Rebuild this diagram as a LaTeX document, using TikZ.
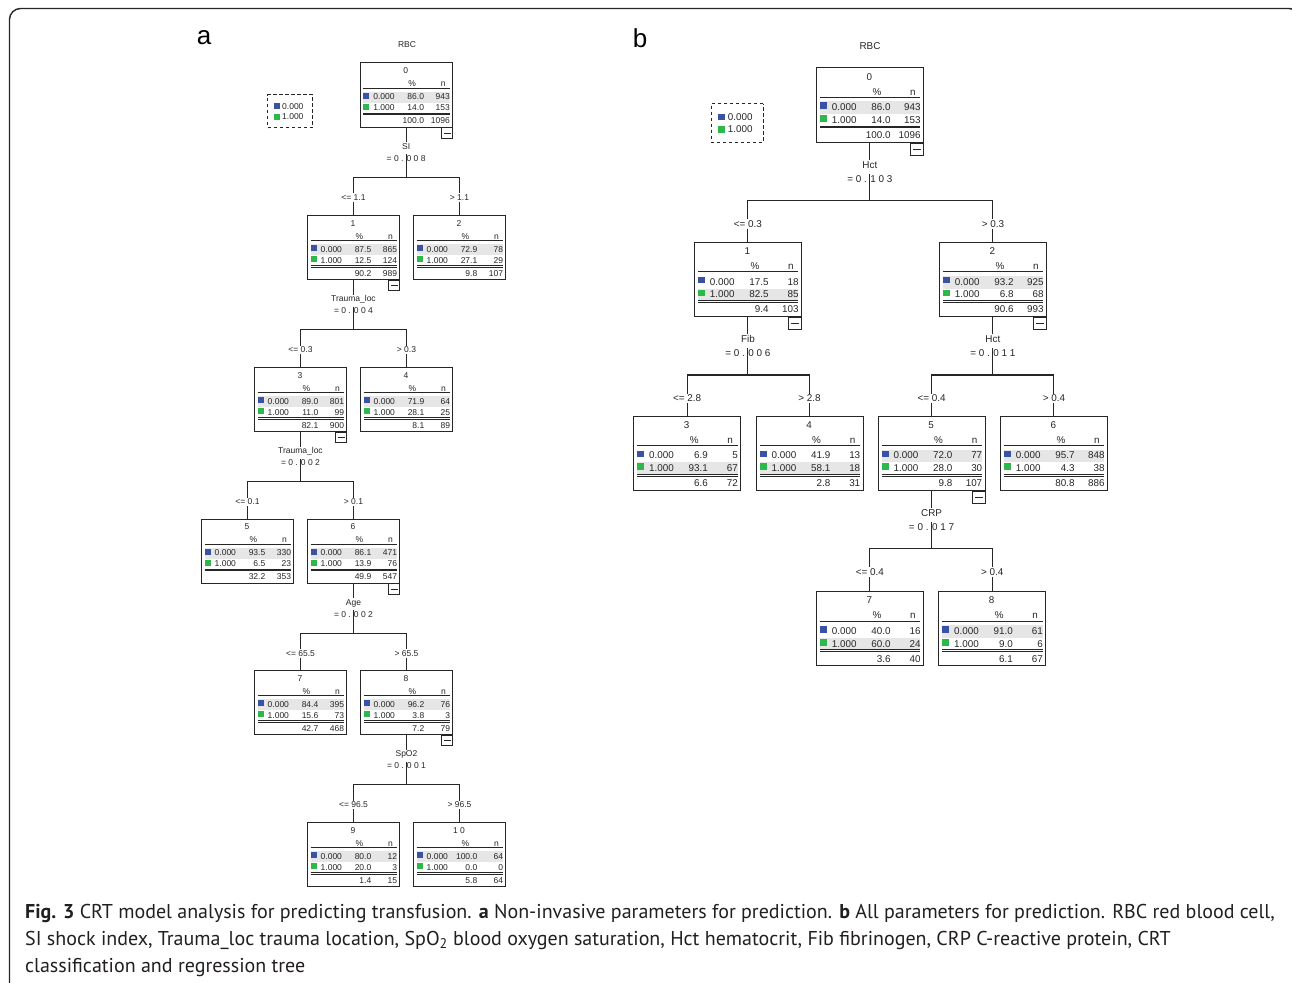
\documentclass[tikz,border=0pt]{standalone}
\usepackage{fontspec}
\setmainfont{Liberation Sans}
\newfontfamily\capfont{PT Sans}
\usetikzlibrary{calc}
\definecolor{sqblue}{HTML}{3A52A5}
\definecolor{sqgreen}{HTML}{2DB84B}
\definecolor{band}{HTML}{E6E6E6}
\definecolor{ink}{HTML}{262626}
\definecolor{capink}{HTML}{231F20}

\def\trs{1}
\def\trf{\fontsize{8.5}{10}\selectfont}

\tikzset{
  boxline/.style={draw=ink, line width=0.9pt},
  conn/.style={draw=ink, line width=1.1pt},
  cell/.style={inner sep=0pt, text=ink, font=\fontsize{8.5}{10}\selectfont},
  lbl/.style={inner sep=1pt, text=ink, anchor=base, font=\trf},
  panel/.style={inner sep=0pt, text=black, font=\fontsize{26}{30}\selectfont},
  capline/.style={inner sep=0pt, anchor=base west, text=capink, font=\capfont\fontsize{20}{27}\selectfont},
}

% #1 name, #2 position, #3 id, #4 p0, #5 n0, #6 p1, #7 n1, #8 ptot, #9 ntot
\newcommand{\crtbox}[9]{%
  \begin{scope}[shift={(#2)}, scale=\trs, transform shape]
    \ifnum#7>#5\relax
      \fill[band] (3.5,40.4) rectangle (90,50);
    \else
      \fill[band] (3.5,29.4) rectangle (90,40.4);
    \fi
    \node[boxline, minimum width=92pt, minimum height=64pt, inner sep=0pt, anchor=north west] (#1) at (0,0) {};
    \node[cell, anchor=base] (#1-id) at (46,11) {#3};
    \node[cell, anchor=base] (#1-pc) at (52.5,24) {\%};
    \node[cell, anchor=base] (#1-n) at (83.5,24) {n};
    \draw[ink, line width=0.8pt] (3.5,25.8) -- (90,25.8);
    \fill[sqblue] (3.5,30.2) rectangle (9.5,36);
    \fill[sqgreen] (3.5,41.3) rectangle (9.5,47.1);
    \node[cell, anchor=base west] (#1-c0) at (13.5,37.4) {0.000};
    \node[cell, anchor=base east] (#1-p0) at (64.5,37.4) {#4};
    \node[cell, anchor=base east] (#1-n0) at (90.3,37.4) {#5};
    \node[cell, anchor=base west] (#1-c1) at (13.5,48.4) {1.000};
    \node[cell, anchor=base east] (#1-p1) at (64.5,48.4) {#6};
    \node[cell, anchor=base east] (#1-n1) at (90.3,48.4) {#7};
    \draw[ink, line width=0.6pt] (3.5,50.5) -- (90,50.5) (3.5,52) -- (90,52);
    \node[cell, anchor=base east] (#1-pt) at (64.5,61.4) {#8};
    \node[cell, anchor=base east] (#1-nt) at (90.3,61.4) {#9};
  \end{scope}}

\newcommand{\crtminus}[1]{%
  \begin{scope}[shift={(#1.south east)}, scale=\trs, transform shape]
    \node[boxline, fill=white, minimum width=11pt, minimum height=10.5pt, inner sep=0pt, anchor=north east] (#1-minus) at (0,0) {};
    \draw[ink, line width=1pt] (-9,5.8) -- (-2,5.8);
  \end{scope}}

\newcommand{\crtlegend}[2]{%
  \begin{scope}[shift={(#2)}, scale=\trs, transform shape]
    \node[draw=ink, line width=0.9pt, dash pattern=on 3.5pt off 2.5pt, minimum width=45pt, minimum height=33pt, inner sep=0pt, anchor=north west] (#1) at (0,0) {};
    \fill[sqblue] (6.7,9) rectangle (12.7,14.7);
    \fill[sqgreen] (6.7,19.7) rectangle (12.7,25.4);
    \node[cell, anchor=base west] (#1-c0) at (14.7,14.7) {0.000};
    \node[cell, anchor=base west] (#1-c1) at (14.7,25.4) {1.000};
  \end{scope}}

% #1 parent, #2 variable, #3 p-value text, #4 left child, #5 right child, #6 left cond, #7 right cond
\newcommand{\crtsplit}[7]{%
  \node[lbl] (#1-var) at ($(#1.south)+(0,{22*\trs})$) {#2};
  \node[lbl] (#1-eq) at ($(#1.south)+(0,{34*\trs})$) {#3};
  \coordinate (#1-bar) at ($(#1.south)+(0,{50*\trs})$);
  \coordinate (#4-top) at (#4.north |- #1-bar);
  \coordinate (#5-top) at (#5.north |- #1-bar);
  \node[lbl] (#4-cond) at ($(#4-top)+(0,{23*\trs})$) {#6};
  \node[lbl] (#5-cond) at ($(#5-top)+(0,{23*\trs})$) {#7};
  \draw[conn] (#1.south) -- (#1-var.north);
  \draw[conn] (#1-eq.north) -- (#1-bar);
  \draw[conn] (#4-cond.north) -- (#4-top) -- (#5-top) -- (#5-cond.north);
  \draw[conn] (#4-cond.south) -- (#4.north);
  \draw[conn] (#5-cond.south) -- (#5.north);}

\begin{document}
\begin{tikzpicture}[x=1pt, y=-1pt]
\useasboundingbox (0,0) rectangle (1292,982);
\clip (0,0) rectangle (1292,982);
\fill[white] (0,0) rectangle (1292,982);

% outer frame
\draw[ink, line width=1.4pt, rounded corners=11pt] (9.5,1000) -- (9.5,8.5) -- (1300,8.5) -- (1300,1000);

% ---------------- tree a ----------------
\def\trs{1}
\def\trf{\fontsize{8.5}{10}\selectfont}
\node[panel] (pa) at (204,38) {a};
\node[lbl, anchor=center] (rbca) at (407,45) {RBC};
\crtlegend{lega}{267.3,94.3}
\crtbox{a0}{359.7,62.5}{0}{86.0}{943}{14.0}{153}{100.0}{1096}
\crtbox{a1}{307,215}{1}{87.5}{865}{12.5}{124}{90.2}{989}
\crtbox{a2}{413,215}{2}{72.9}{78}{27.1}{29}{9.8}{107}
\crtbox{a3}{254,367}{3}{89.0}{801}{11.0}{99}{82.1}{900}
\crtbox{a4}{360,367}{4}{71.9}{64}{28.1}{25}{8.1}{89}
\crtbox{a5}{201,518.5}{5}{93.5}{330}{6.5}{23}{32.2}{353}
\crtbox{a6}{307,518.5}{6}{86.1}{471}{13.9}{76}{49.9}{547}
\crtbox{a7}{254,670}{7}{84.4}{395}{15.6}{73}{42.7}{468}
\crtbox{a8}{360,670}{8}{96.2}{76}{3.8}{3}{7.2}{79}
\crtbox{a9}{307,822}{9}{80.0}{12}{20.0}{3}{1.4}{15}
\crtbox{a10}{413,822}{1 0}{100.0}{64}{0.0}{0}{5.8}{64}
\crtminus{a0}\crtminus{a1}\crtminus{a3}\crtminus{a6}\crtminus{a8}
\crtsplit{a0}{SI}{= 0 . 0 0 8}{a1}{a2}{<= 1.1}{> 1.1}
\crtsplit{a1}{Trauma\_loc}{= 0 . 0 0 4}{a3}{a4}{<= 0.3}{> 0.3}
\crtsplit{a3}{Trauma\_loc}{= 0 . 0 0 2}{a5}{a6}{<= 0.1}{> 0.1}
\crtsplit{a6}{Age}{= 0 . 0 0 2}{a7}{a8}{<= 65.5}{> 65.5}
\crtsplit{a8}{SpO2}{= 0 . 0 0 1}{a9}{a10}{<= 96.5}{> 96.5}

% ---------------- tree b ----------------
\def\trs{1.16}
\def\trf{\fontsize{9.9}{12}\selectfont}
\node[panel] (pb) at (640,38) {b};
\node[lbl, anchor=center] (rbcb) at (870,46) {RBC};
\crtlegend{legb}{710.7,103.3}
\crtbox{b0}{816,67.3}{0}{86.0}{943}{14.0}{153}{100.0}{1096}
\crtbox{b1}{694,241.7}{1}{17.5}{18}{82.5}{85}{9.4}{103}
\crtbox{b2}{939,241.7}{2}{93.2}{925}{6.8}{68}{90.6}{993}
\crtbox{b3}{633.3,415.5}{3}{6.9}{5}{93.1}{67}{6.6}{72}
\crtbox{b4}{755.7,415.5}{4}{41.9}{13}{58.1}{18}{2.8}{31}
\crtbox{b5}{877.7,415.5}{5}{72.0}{77}{28.0}{30}{9.8}{107}
\crtbox{b6}{1000,415.5}{6}{95.7}{848}{4.3}{38}{80.8}{886}
\crtbox{b7}{816,591}{7}{40.0}{16}{60.0}{24}{3.6}{40}
\crtbox{b8}{938.3,591}{8}{91.0}{61}{9.0}{6}{6.1}{67}
\crtminus{b0}\crtminus{b1}\crtminus{b2}\crtminus{b5}
\crtsplit{b0}{Hct}{= 0 . 1 0 3}{b1}{b2}{<= 0.3}{> 0.3}
\crtsplit{b1}{Fib}{= 0 . 0 0 6}{b3}{b4}{<= 2.8}{> 2.8}
\crtsplit{b2}{Hct}{= 0 . 0 1 1}{b5}{b6}{<= 0.4}{> 0.4}
\crtsplit{b5}{CRP}{= 0 . 0 1 7}{b7}{b8}{<= 0.4}{> 0.4}

% ---------------- caption ----------------
\node[capline] (cap1) at (25,918) {\textbf{Fig. 3} CRT model analysis for predicting transfusion. \textbf{a} Non-invasive parameters for prediction. \textbf{b} All parameters for prediction. RBC red blood cell,};
\node[capline] (cap2) at (25,945) {SI shock index, Trauma\_loc trauma location, SpO\textsubscript{2} blood oxygen saturation, Hct hematocrit, Fib fibrinogen, CRP C-reactive protein, CRT};
\node[capline] (cap3) at (25,972) {classification and regression tree};
\end{tikzpicture}
\end{document}
